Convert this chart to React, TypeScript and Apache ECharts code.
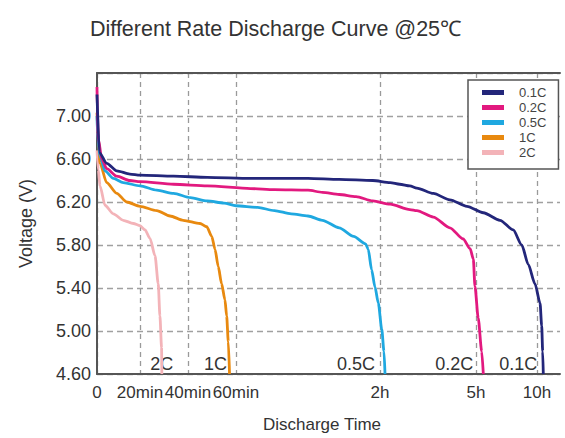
import React, { useEffect, useRef } from "react";
import * as echarts from "echarts";

// ---- data (time in minutes, voltage in V) ----
const seriesNames = ["0.1C", "0.2C", "0.5C", "1C", "2C"];
const seriesColors = ["#23267a", "#e2197f", "#1fa8e0", "#e8890f", "#f3b3b8"];

const xTickLabels = ["0", "20min", "40min", "60min", "2h", "5h", "10h"];
const xTickMinutes = [0, 20, 40, 60, 120, 300, 600];

const curve01C: [number, number][] = [
  [0, 7.2], [1.1, 6.66], [4.5, 6.56], [9.2, 6.49], [15.3, 6.46], [20, 6.45],
  [34, 6.44], [48, 6.43], [66, 6.42], [90, 6.42], [103, 6.41], [117, 6.4],
  [139, 6.38], [157, 6.365], [176, 6.35], [189, 6.33], [220, 6.28], [251, 6.22],
  [283, 6.16], [336, 6.1], [418, 6.03], [483, 5.94], [525, 5.8], [557, 5.62],
  [590, 5.44], [615, 5.26], [623, 5.05], [628, 4.81], [631, 4.6],
];
const curve02C: [number, number][] = [
  [0, 7.27], [0.15, 7.04], [0.6, 6.79], [2.2, 6.6], [4.5, 6.51], [9.2, 6.44],
  [15.3, 6.4], [20, 6.39], [34, 6.365], [48, 6.35], [66, 6.325], [76, 6.315],
  [90, 6.31], [96, 6.29], [103, 6.27], [110, 6.25], [117, 6.21], [139, 6.18],
  [176, 6.13], [189, 6.12], [220, 6.06], [251, 5.96], [276, 5.856], [289, 5.765],
  [295, 5.67], [298, 5.416], [311, 5.12], [328, 4.81], [336, 4.6],
];
const curve05C: [number, number][] = [
  [0, 7.0], [0.15, 6.85], [1.4, 6.63], [3.7, 6.49], [7.6, 6.42], [12.2, 6.38],
  [20, 6.35], [27, 6.31], [34, 6.28], [41, 6.24], [48, 6.21], [55, 6.19],
  [60, 6.165], [69, 6.15], [76, 6.12], [83, 6.09], [90, 6.07], [96, 6.03],
  [103, 5.96], [109, 5.88], [114, 5.81], [115.1, 5.76], [116.5, 5.57],
  [117.9, 5.41], [119.3, 5.26], [123.2, 5.02], [127.5, 4.81], [129.4, 4.6],
];
const curve1C: [number, number][] = [
  [0, 7.03], [0.6, 6.79], [1.4, 6.56], [4.5, 6.38], [9.2, 6.28], [13.8, 6.2],
  [20, 6.16], [27, 6.12], [32.5, 6.07], [38, 6.03], [45, 6.0], [47.8, 5.97],
  [49.9, 5.88], [51.25, 5.76], [52.6, 5.6], [54, 5.44], [55.4, 5.29],
  [56.1, 5.14], [56.8, 4.9], [57.3, 4.6],
];
const curve2C: [number, number][] = [
  [0, 6.68], [0.6, 6.5], [1.4, 6.35], [3.7, 6.17], [7.6, 6.09], [12.2, 6.03],
  [16.9, 6.0], [20, 5.98], [22.1, 5.94], [24.2, 5.86], [26.25, 5.7],
  [27.6, 5.44], [28.3, 5.14], [29.0, 4.84], [29.1, 4.6],
];
const curves = [curve01C, curve02C, curve05C, curve1C, curve2C];

// ---- layout of the warped time axis (axis units along the plot width) ----
const X_TICK_POS = [0, 43, 91, 139, 283, 379, 440];
const X_AXIS_MAX = 463;
const Y_MIN = 4.6;
const Y_MAX = 7.4;
const labelDx = [-25, -29, -29, -14, 0];

function toAxis(m: number): number {
  const n = xTickMinutes.length;
  for (let i = 0; i < n - 1; i++) {
    if (m <= xTickMinutes[i + 1]) {
      const t = (m - xTickMinutes[i]) / (xTickMinutes[i + 1] - xTickMinutes[i]);
      return X_TICK_POS[i] + t * (X_TICK_POS[i + 1] - X_TICK_POS[i]);
    }
  }
  const slope = (X_TICK_POS[n - 1] - X_TICK_POS[n - 2]) / (xTickMinutes[n - 1] - xTickMinutes[n - 2]);
  return X_TICK_POS[n - 1] + (m - xTickMinutes[n - 1]) * slope;
}

const FONT = "'Liberation Sans', Arial, Helvetica, sans-serif";

export default function App() {
  const ref = useRef<HTMLDivElement>(null);
  useEffect(() => {
    if (!ref.current) return;
    const chart = echarts.init(ref.current, undefined, { renderer: "svg" });
    const tickPos = xTickMinutes.map(toAxis);
    const option: any = {
      animation: false,
      backgroundColor: "#ffffff",
      color: seriesColors,
      textStyle: { fontFamily: FONT },
      title: {
        text: "Different Rate Discharge Curve @25\u2103",
        left: 85,
        top: 13,
        textStyle: { fontFamily: FONT, fontSize: 21.5, fontWeight: "normal", color: "#333" },
      },
      legend: {
        orient: "vertical",
        left: 468,
        top: 80,
        padding: [6, 12, 10, 14],
        backgroundColor: "#fff",
        borderColor: "#555",
        borderWidth: 1.5,
        icon: "rect",
        itemWidth: 22,
        itemHeight: 5,
        itemGap: 2,
        data: seriesNames,
        textStyle: { fontFamily: FONT, fontSize: 13, color: "#444", lineHeight: 12.3, padding: [0, 0, 0, 10] },
      },
      grid: { left: 97, right: 5, top: 73, bottom: 64, containLabel: false, outerBoundsMode: "none" },
      xAxis: [
        {
          type: "value",
          min: 0,
          max: X_AXIS_MAX,
          name: "Discharge Time",
          nameLocation: "middle",
          nameGap: 42,
          nameTextStyle: { fontFamily: FONT, fontSize: 17, color: "#333", padding: [0, 13, 0, 0] },
          axisLine: { show: true, lineStyle: { color: "#555", width: 2 } },
          axisTick: { show: false, customValues: tickPos },
          axisLabel: {
            customValues: tickPos,
            fontFamily: FONT,
            fontSize: 17,
            color: "#333",
            margin: 10,
            formatter: (v: number) => {
              const i = tickPos.findIndex((p) => Math.abs(p - v) < 0.01);
              return i >= 0 ? xTickLabels[i] : "";
            },
          },
          splitLine: { show: true, lineStyle: { color: "#9a9a9a", type: [5, 4], width: 1.3 } },
        },
        {
          type: "value",
          position: "top",
          min: 0,
          max: X_AXIS_MAX,
          axisLine: { show: true, lineStyle: { color: "#555", width: 2 } },
          axisTick: { show: false },
          axisLabel: { show: false },
          splitLine: { show: false },
        },
      ],
      yAxis: {
        type: "value",
        min: Y_MIN,
        max: Y_MAX,
        interval: 0.4,
        name: "Voltage (V)",
        nameLocation: "middle",
        nameGap: 62,
        nameTextStyle: { fontFamily: FONT, fontSize: 18, color: "#333" },
        axisLine: { show: true, lineStyle: { color: "#555", width: 2 } },
        axisTick: { show: false },
        axisLabel: {
          fontFamily: FONT,
          fontSize: 18,
          color: "#333",
          margin: 6,
          formatter: (v: number) => (v > 7.2 ? "" : v.toFixed(2)),
        },
        splitLine: { show: true, lineStyle: { color: "#a0a0a0", type: [6, 4], width: 1.3 } },
      },
      series: seriesNames.map((name, i) => {
        const d = curves[i];
        const last = d[d.length - 1];
        return {
          name,
          type: "line",
          xAxisIndex: 0,
          data: d.map(([m, v]) => [toAxis(m), v]),
          showSymbol: false,
          symbol: "none",
          smooth: 0.25,
          smoothMonotone: "x",
          lineStyle: { width: 2.8, color: seriesColors[i] },
          itemStyle: { color: seriesColors[i] },
          z: 10 - i,
          markPoint: {
            symbol: "rect",
            symbolSize: 1,
            itemStyle: { color: "rgba(0,0,0,0)" },
            data: [{ coord: [toAxis(last[0]), Y_MIN] }],
            label: {
              show: true,
              position: "inside",
              formatter: name,
              offset: [labelDx[i], -10],
              fontFamily: FONT,
              fontSize: 18,
              color: "#333",
            },
          },
        };
      }),
    };
    chart.setOption(option);
    return () => chart.dispose();
  }, []);
  return (
    <div
      ref={ref}
      style={{ position: "fixed", left: 0, top: 0, width: 565, height: 438, background: "#fff" }}
    />
  );
}
